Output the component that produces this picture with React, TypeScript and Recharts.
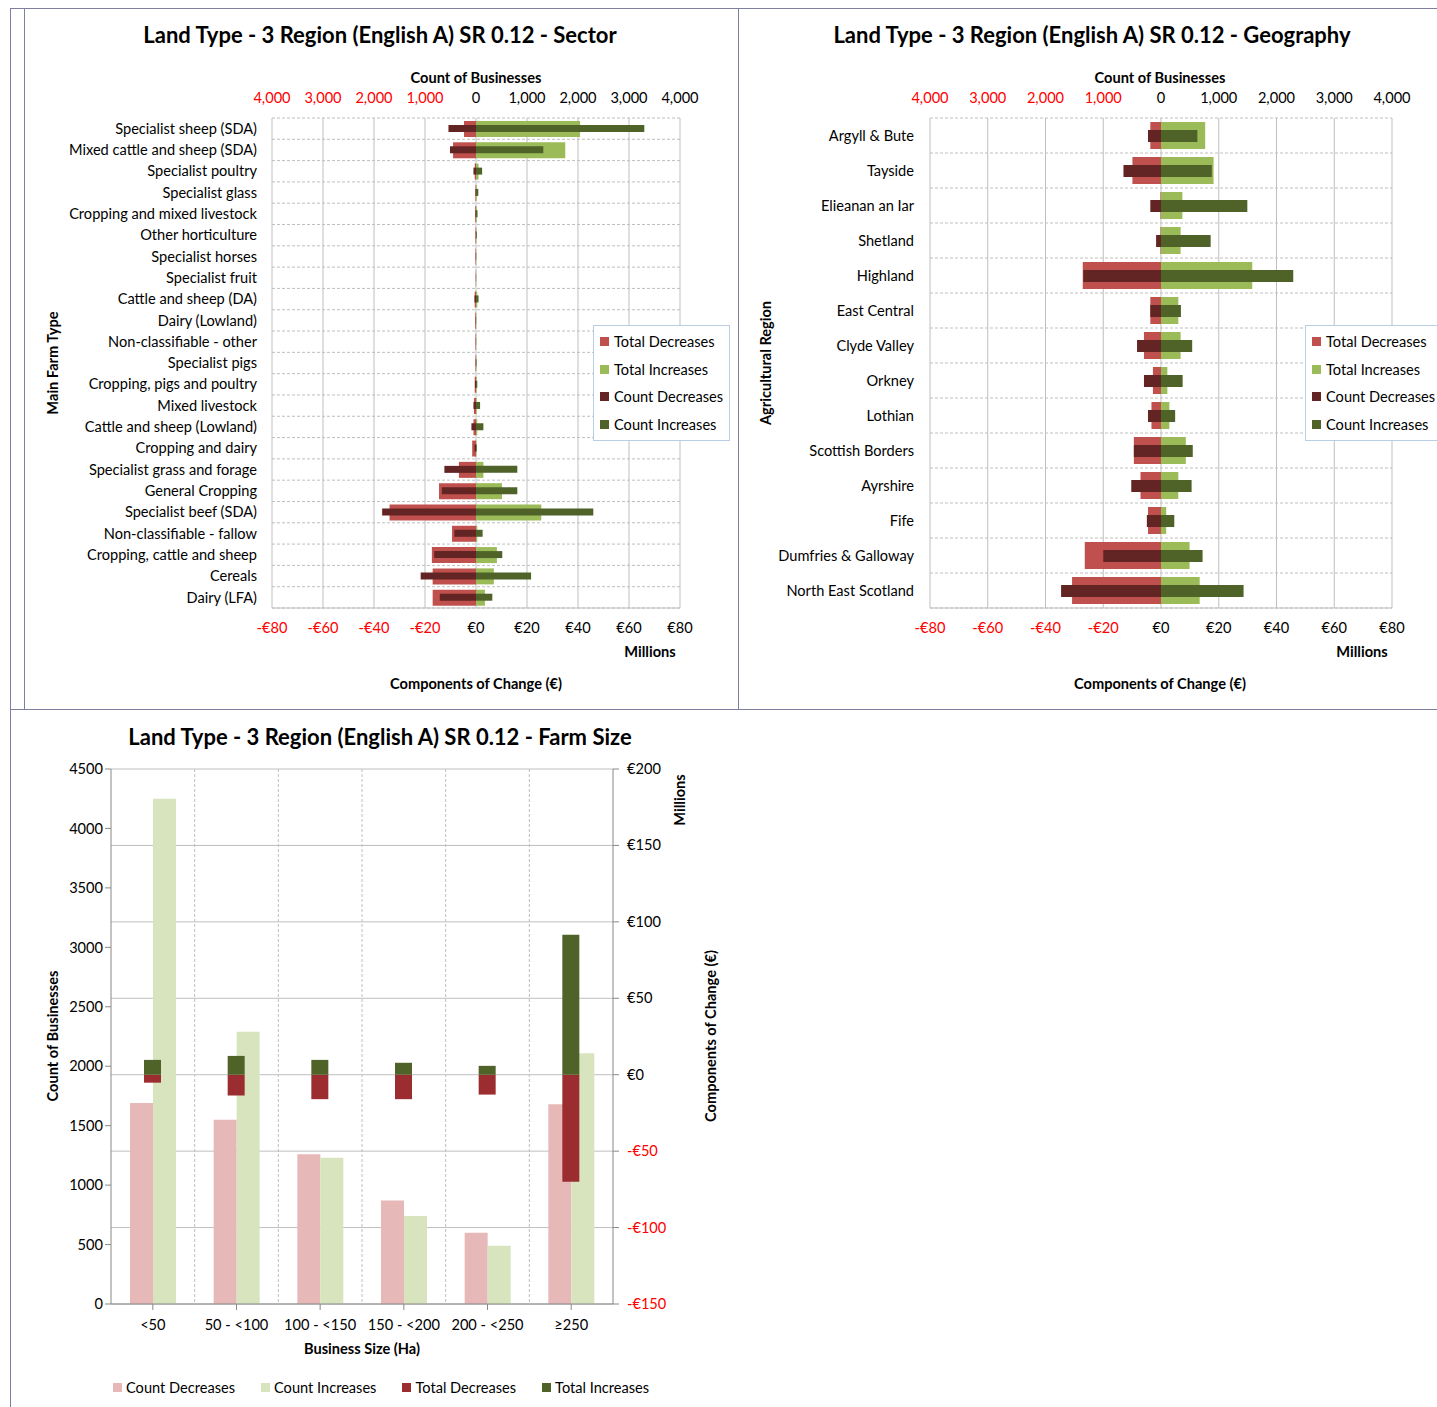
import React from 'react';
import { BarChart, Bar, XAxis, YAxis, CartesianGrid } from 'recharts';

// ---- Sector ----
const sectorNames = [
  'Specialist sheep (SDA)', 'Mixed cattle and sheep (SDA)', 'Specialist poultry', 'Specialist glass',
  'Cropping and mixed livestock', 'Other horticulture', 'Specialist horses', 'Specialist fruit',
  'Cattle and sheep (DA)', 'Dairy (Lowland)', 'Non-classifiable - other', 'Specialist pigs',
  'Cropping, pigs and poultry', 'Mixed livestock', 'Cattle and sheep (Lowland)', 'Cropping and dairy',
  'Specialist grass and forage', 'General Cropping', 'Specialist beef (SDA)', 'Non-classifiable - fallow',
  'Cropping, cattle and sheep', 'Cereals', 'Dairy (LFA)',
];
const sectorTotalDec = [-4.7, -9, -0.5, -0.2, -0.3, -0.2, -0.2, -0.1, -0.5, -0.3, -0.2, -0.2, -0.5, -0.8, -1, -1.5, -6.7, -14.5, -33.9, -9.4, -17.3, -17, -17];
const sectorTotalInc = [40.8, 35, 1, 0.3, 0.3, 0.2, 0.1, 0.1, 0.5, 0.1, 0.1, 0.2, 0.3, 0.3, 0.5, 0.2, 2.9, 10.2, 25.6, 0.5, 8.2, 7, 3.5];
const sectorCountDec = [-540, -510, -50, -10, -10, -5, -5, -3, -30, -5, -3, -5, -20, -50, -90, -30, -620, -670, -1840, -425, -820, -1085, -710];
const sectorCountInc = [3300, 1320, 120, 45, 30, 15, 5, 3, 50, 3, 3, 10, 25, 80, 145, 15, 810, 810, 2300, 130, 515, 1080, 320];

// ---- Geography ----
const geoNames = [
  'Argyll & Bute', 'Tayside', 'Elieanan an Iar', 'Shetland', 'Highland', 'East Central', 'Clyde Valley',
  'Orkney', 'Lothian', 'Scottish Borders', 'Ayrshire', 'Fife', 'Dumfries & Galloway', 'North East Scotland',
];
const geoTotalDec = [-3.7, -9.9, -0.2, -0.2, -27.1, -3.7, -5.9, -2.8, -3.3, -9.4, -7.1, -4.5, -26.4, -30.8];
const geoTotalInc = [15.3, 18.2, 7.4, 6.8, 31.6, 6, 6.8, 2.2, 2.9, 8.6, 6, 1.8, 9.9, 13.4];
const geoCountDec = [-225, -650, -185, -85, -1345, -185, -415, -295, -225, -470, -515, -245, -1000, -1730];
const geoCountInc = [630, 880, 1495, 860, 2290, 345, 540, 375, 245, 550, 530, 230, 720, 1430];

// ---- Farm size ----
const sizeNames = ['<50', '50 - <100', '100 - <150', '150 - <200', '200 - <250', '≥250'];
const sizeCountDec = [1690, 1550, 1260, 870, 600, 1680];
const sizeCountInc = [4250, 2290, 1230, 740, 490, 2110];
const sizeTotalDec = [-5.2, -13.6, -16, -16, -13, -70];
const sizeTotalInc = [9.7, 12.3, 9.7, 7.8, 5.8, 91.6];

const countTicks = [-4000, -3000, -2000, -1000, 0, 1000, 2000, 3000, 4000];
const euroTicks = [-80, -60, -40, -20, 0, 20, 40, 60, 80];
const rightTicks = [-150, -100, -50, 0, 50, 100, 150, 200];
const leftTicks = [0, 500, 1000, 1500, 2000, 2500, 3000, 3500, 4000, 4500];

const C = { td: '#C0504D', ti: '#9BBB59', cd: '#632523', ci: '#4F6228' };
const FONT = 'Lato, "Open Sans", sans-serif';
const FS = 14.6;
const TXT = '#000';

const sectorData = sectorNames.map((name, i) => ({ name, td: sectorTotalDec[i], ti: sectorTotalInc[i], cd: sectorCountDec[i], ci: sectorCountInc[i] }));
const geoData = geoNames.map((name, i) => ({ name, td: geoTotalDec[i], ti: geoTotalInc[i], cd: geoCountDec[i], ci: geoCountInc[i] }));
const sizeData = sizeNames.map((name, i) => ({ name, cd: sizeCountDec[i], ci: sizeCountInc[i], td: sizeTotalDec[i], ti: sizeTotalInc[i] }));

const fmtCount = (v: number) => Math.abs(v).toLocaleString('en-US');
const fmtEuro = (v: number) => (v < 0 ? '-€' : '€') + Math.abs(v);

const SignTick = (fmt: (v: number) => string, dy: number, anchor = 'middle', dx = 0) => (props: any) => {
  const { x, y, payload } = props;
  return (
    <text x={x + dx} y={y} dy={dy} textAnchor={anchor} fontSize={FS} fontFamily={FONT} fill={payload.value < 0 ? '#FF0000' : TXT}>
      {fmt(payload.value)}
    </text>
  );
};

const rowLines = (n: number) => ({ offset }: any) => {
  const out: number[] = [];
  for (let i = 0; i <= n; i++) out.push(offset.top + (i * offset.height) / n);
  return out;
};

const Legend4 = ({ left, top }: { left: number; top: number }) => {
  const items: [string, string][] = [['Total Decreases', C.td], ['Total Increases', C.ti], ['Count Decreases', C.cd], ['Count Increases', C.ci]];
  return (
    <div style={{ position: 'absolute', left, top, border: '1px solid #B9CDE5', background: '#fff', padding: '2px 6px', fontFamily: FONT, fontSize: FS }}>
      {items.map(([t, c]) => (
        <div key={t} style={{ display: 'flex', alignItems: 'center', height: 27.5, whiteSpace: 'nowrap' }}>
          <span style={{ width: 9, height: 9, background: c, marginRight: 5, display: 'inline-block' }} />
          {t}
        </div>
      ))}
    </div>
  );
};

type HProps = {
  data: any[]; left: number; top: number; width: number; height: number; yw: number; ml: number; mr: number;
  totalSize: number; countSize: number; rows: number; tm: number;
};

const HorizPair = ({ data, left, top, width, height, yw, ml, mr, totalSize, countSize, rows, tm }: HProps) => {
  const axisH = 30;
  return (
    <>
      <div style={{ position: 'absolute', left, top }}>
        <BarChart width={width} height={height} data={data} layout="vertical" stackOffset="sign" barSize={totalSize}
          margin={{ top: 28 + axisH, right: mr, bottom: 22, left: ml }}>
          <CartesianGrid horizontal={false} stroke="#BFBFBF" />
          <CartesianGrid vertical={false} stroke="#BFBFBF" strokeDasharray="3 2" horizontalCoordinatesGenerator={rowLines(rows)} />
          <XAxis type="number" domain={[-80, 80]} ticks={euroTicks} height={axisH} axisLine={{ stroke: '#BFBFBF' }} tickLine={false}
            tick={SignTick(fmtEuro, 17)} interval={0} />
          <YAxis type="category" dataKey="name" width={yw} axisLine={false} tickLine={false} interval={0} tickMargin={tm}
            tick={{ fontSize: FS, fill: TXT, fontFamily: FONT }} />
          <Bar dataKey="td" stackId="t" fill={C.td} isAnimationActive={false} />
          <Bar dataKey="ti" stackId="t" fill={C.ti} isAnimationActive={false} />
        </BarChart>
      </div>
      <div style={{ position: 'absolute', left, top }}>
        <BarChart width={width} height={height} data={data} layout="vertical" stackOffset="sign" barSize={countSize}
          margin={{ top: 28, right: mr, bottom: 22 + axisH, left: ml }}>
          <XAxis type="number" orientation="top" domain={[-4000, 4000]} ticks={countTicks} height={axisH} axisLine={false} tickLine={false}
            tick={SignTick(fmtCount, -7)} interval={0} />
          <YAxis type="category" dataKey="name" width={yw} axisLine={false} tickLine={false} tick={false} />
          <Bar dataKey="cd" stackId="c" fill={C.cd} isAnimationActive={false} />
          <Bar dataKey="ci" stackId="c" fill={C.ci} isAnimationActive={false} />
        </BarChart>
      </div>
    </>
  );
};

const abs = (l: number, t: number, extra: React.CSSProperties = {}): React.CSSProperties => ({
  position: 'absolute', left: l, top: t, fontFamily: FONT, color: TXT, whiteSpace: 'nowrap', ...extra,
});

const Rot = ({ x, y, text, bold = true }: { x: number; y: number; text: string; bold?: boolean }) => (
  <div style={abs(x, y, { transform: 'translate(-50%,-50%) rotate(-90deg)', fontSize: FS, fontWeight: bold ? 700 : 400 })}>{text}</div>
);
const Center = ({ x, y, text, size = FS }: { x: number; y: number; text: string; size?: number }) => (
  <div style={abs(x, y, { transform: 'translate(-50%,-50%)', fontSize: size, fontWeight: 700 })}>{text}</div>
);

const sizeVGrid = ({ offset }: any) => [1, 2, 3, 4, 5].map((i) => offset.left + (i * offset.width) / 6);
const sizeHGrid = rowLines(7);

export default function App() {
  const fw = 720, fh = 600;
  const fm = { top: 14, right: 57, bottom: 21, left: 31 };
  return (
    <div style={{ position: 'absolute', left: 0, top: 0, width: 1437, height: 1407, background: '#fff' }}>
      {/* panel borders */}
      <div style={{ position: 'absolute', left: 10, top: 8, width: 727, height: 701, borderLeft: '1px solid #7F7FA0', borderTop: '1px solid #7F7FA0', borderRight: '1px solid #7F7FA0' }} />
      <div style={{ position: 'absolute', left: 737, top: 8, width: 700, height: 701, borderTop: '1px solid #7F7FA0' }} />
      <div style={{ position: 'absolute', left: 10, top: 709, width: 1426, height: 698, borderLeft: '1px solid #7F7FA0', borderTop: '1px solid #7F7FA0', borderRight: '1px solid #7F7FA0' }} />
      <div style={{ position: 'absolute', left: 24, top: 8, width: 1, height: 701, background: '#7F7FA0' }} />

      {/* Sector */}
      <Center x={380} y={34} size={22} text="Land Type - 3 Region (English A) SR 0.12 - Sector" />
      <Center x={476} y={77} text="Count of Businesses" />
      <HorizPair data={sectorData} left={10} top={60} width={720} height={600} yw={250} ml={12} mr={50} totalSize={16} countSize={7} rows={23} tm={9} />
      <Center x={650} y={651} text="Millions" />
      <Center x={476} y={683} text="Components of Change (€)" />
      <Rot x={52} y={363} text="Main Farm Type" />
      <Legend4 left={593} top={325} />

      {/* Geography */}
      <Center x={1092} y={34} size={22} text="Land Type - 3 Region (English A) SR 0.12 - Geography" />
      <Center x={1160} y={77} text="Count of Businesses" />
      <HorizPair data={geoData} left={737} top={60} width={700} height={600} yw={178} ml={15} mr={45} totalSize={27} countSize={12} rows={14} tm={10} />
      <Center x={1362} y={651} text="Millions" />
      <Center x={1160} y={683} text="Components of Change (€)" />
      <Rot x={765} y={363} text="Agricultural Region" />
      <Legend4 left={1305} top={325} />

      {/* Farm size */}
      <Center x={380} y={736} size={22} text="Land Type - 3 Region (English A) SR 0.12 - Farm Size" />
      <div style={{ position: 'absolute', left: 10, top: 755 }}>
        <BarChart width={fw} height={fh} data={sizeData} barGap={0} barSize={23} margin={fm}>
          <CartesianGrid vertical={false} stroke="#BFBFBF" horizontalCoordinatesGenerator={sizeHGrid} />
          <CartesianGrid horizontal={false} stroke="#BFBFBF" strokeDasharray="3 2" verticalCoordinatesGenerator={sizeVGrid} />
          <XAxis dataKey="name" height={30} interval={0} axisLine={{ stroke: '#888' }} tickLine={{ stroke: '#888' }} tickMargin={10}
            tick={{ fontSize: FS, fill: TXT, fontFamily: FONT }} />
          <YAxis yAxisId="l" domain={[0, 4500]} ticks={leftTicks} width={70} interval={0} axisLine={{ stroke: '#888' }} tickLine={{ stroke: '#888' }}
            tick={{ fontSize: FS, fill: TXT, fontFamily: FONT }} />
          <YAxis yAxisId="r" orientation="right" width={60} domain={[0, 1]} tick={false} axisLine={false} tickLine={false} />
          <Bar yAxisId="l" dataKey="cd" fill="#E6B9B8" isAnimationActive={false} />
          <Bar yAxisId="l" dataKey="ci" fill="#D7E4BD" isAnimationActive={false} />
        </BarChart>
      </div>
      <div style={{ position: 'absolute', left: 10, top: 755 }}>
        <BarChart width={fw} height={fh} data={sizeData} stackOffset="sign" barSize={17} margin={fm}>
          <XAxis dataKey="name" height={30} tick={false} axisLine={false} tickLine={false} />
          <YAxis yAxisId="l" width={70} tick={false} axisLine={false} tickLine={false} />
          <YAxis yAxisId="r" orientation="right" width={60} domain={[-150, 200]} ticks={rightTicks} interval={0}
            axisLine={{ stroke: '#888' }} tickLine={{ stroke: '#888' }} tick={SignTick(fmtEuro, 5, 'start', 6)} />
          <Bar yAxisId="r" dataKey="td" stackId="t" fill="#9B2D30" isAnimationActive={false} />
          <Bar yAxisId="r" dataKey="ti" stackId="t" fill={C.ci} isAnimationActive={false} />
        </BarChart>
      </div>
      <Rot x={679} y={800} text="Millions" />
      <Rot x={710} y={1036} text="Components of Change (€)" />
      <Rot x={52} y={1036} text="Count of Businesses" />
      <Center x={362} y={1348} text="Business Size (Ha)" />
      <div style={abs(113, 1379, { display: 'flex', fontSize: FS, gap: 26 })}>
        {([['Count Decreases', '#E6B9B8'], ['Count Increases', '#D7E4BD'], ['Total Decreases', '#9B2D30'], ['Total Increases', C.ci]] as [string, string][]).map(([t, c]) => (
          <div key={t} style={{ display: 'flex', alignItems: 'center' }}>
            <span style={{ width: 9, height: 9, background: c, marginRight: 4, display: 'inline-block' }} />
            {t}
          </div>
        ))}
      </div>
    </div>
  );
}
